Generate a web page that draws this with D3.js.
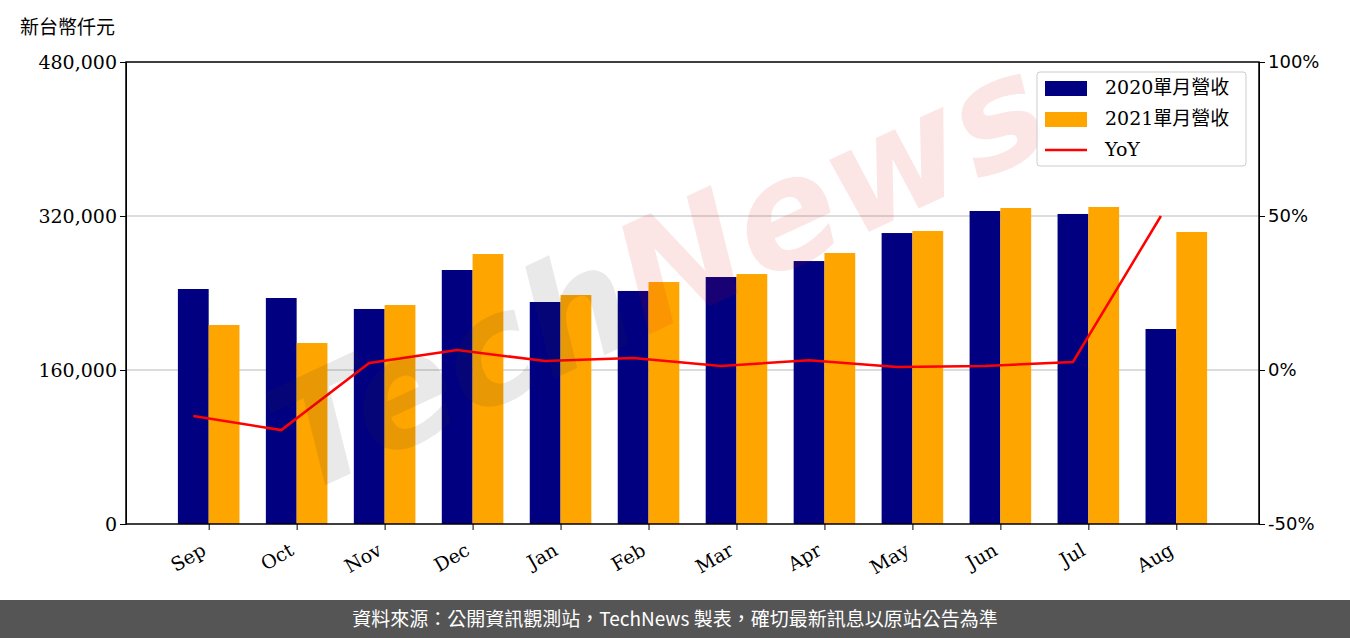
<!DOCTYPE html>
<html lang="zh-Hant">
<head>
<meta charset="UTF-8">
<title>單月營收</title>
<style>
  body { margin: 0; background: #fff; }
  .ax text { font-family: "DejaVu Serif", serif; font-size: 19px; fill: #000; }
  .axr text { font-family: "DejaVu Sans", sans-serif; font-size: 18px; fill: #000; }
  .ax path, .ax line, .axr path, .axr line { stroke: #000; }
</style>
<script src="https://d3js.org/d3.v7.min.js"></script>
</head>
<body>
<script>
const months = ["Sep","Oct","Nov","Dec","Jan","Feb","Mar","Apr","May","Jun","Jul","Aug"];
const rev2020 = [244150,234800,223400,263900,230650,242100,256600,273200,302300,325200,322100,202600];
const rev2021 = [206750,188050,227500,280500,237900,251400,259700,281550,304400,328300,329350,303400];
const yoy = [-14.9,-19.5,2.3,6.5,2.9,3.9,1.3,3.2,1.0,1.3,2.6,50];
const leftTicks = [0,160000,320000,480000];
const rightTicks = [-50,0,50,100];

const W = 1350, H = 638;
const L = 126, R = 1259, T = 62, B = 524;

const svg = d3.select("body").append("svg").attr("width", W).attr("height", H);

const x = d3.scaleLinear().domain([-0.94, 11.94]).range([L, R]);
const bw = x(0.35) - x(0);
const y = d3.scaleLinear().domain([0, 480000]).range([B, T]);
const y2 = d3.scaleLinear().domain([-50, 100]).range([B, T]);

// grid
svg.append("g").selectAll("line").data([160000, 320000]).enter().append("line")
  .attr("x1", L).attr("x2", R).attr("y1", d => y(d)).attr("y2", d => y(d))
  .attr("stroke", "#d0d0d0").attr("stroke-width", 1.5);

svg.append("g").selectAll("rect").data(rev2020).enter().append("rect")
  .attr("x", (d, i) => x(i) - bw).attr("width", bw)
  .attr("y", d => y(d)).attr("height", d => B - y(d)).attr("fill", "#000080");
svg.append("g").selectAll("rect").data(rev2021).enter().append("rect")
  .attr("x", (d, i) => x(i)).attr("width", bw)
  .attr("y", d => y(d)).attr("height", d => B - y(d)).attr("fill", "#FFA500");

const line = d3.line().x((d, i) => x(i) - bw / 2).y(d => y2(d));
svg.append("path").datum(yoy).attr("d", line)
  .attr("fill", "none").attr("stroke", "red").attr("stroke-width", 2.5);

// watermark overlay
const wm = svg.append("text")
  .attr("transform", "translate(680,320) rotate(-25)")
  .attr("text-anchor", "middle").attr("opacity", 0.1)
  .attr("font-family", "DejaVu Sans, sans-serif")
  .attr("font-size", 150).attr("font-weight", "bold").attr("font-style", "italic");
wm.append("tspan").attr("fill", "#333").text("Tech");
wm.append("tspan").attr("fill", "#e01010").text("News");

// frame
svg.append("rect").attr("x", L).attr("y", T).attr("width", R - L).attr("height", B - T)
  .attr("fill", "none").attr("stroke", "#000").attr("stroke-width", 1.5);

svg.append("g").attr("class", "ax").attr("transform", `translate(${L},0)`)
  .call(d3.axisLeft(y).tickValues(leftTicks).tickFormat(d3.format(",")).tickSizeOuter(0).tickSize(6));
svg.append("g").attr("class", "axr").attr("transform", `translate(${R},0)`)
  .call(d3.axisRight(y2).tickValues(rightTicks).tickFormat(d => d + "%").tickSizeOuter(0).tickSize(6));
const xa = svg.append("g").attr("class", "ax").attr("transform", `translate(0,${B})`)
  .call(d3.axisBottom(x).tickValues(d3.range(12)).tickFormat(i => months[i]).tickSizeOuter(0).tickSize(6));
xa.select(".domain").remove();
xa.selectAll("text").attr("text-anchor", "end").attr("dy", null).attr("y", 0)
  .attr("transform", "translate(-2,30) rotate(-30)");

svg.append("text").attr("x", 20).attr("y", 34)
  .attr("font-family", "Noto Sans CJK TC, sans-serif").attr("font-size", 19).text("新台幣仟元");

// legend
const lg = svg.append("g").attr("transform", "translate(1037,72)");
lg.append("rect").attr("width", 209).attr("height", 94).attr("rx", 3)
  .attr("fill", "#fff").attr("fill-opacity", 0.85).attr("stroke", "#ccc");
const items = [["2020單月營收", "#000080", "bar"], ["2021單月營收", "#FFA500", "bar"], ["YoY", "red", "line"]];
items.forEach((it, i) => {
  const cy = 16 + i * 31;
  if (it[2] === "bar") lg.append("rect").attr("x", 8).attr("y", cy - 7).attr("width", 42).attr("height", 15).attr("fill", it[1]);
  else lg.append("line").attr("x1", 8).attr("x2", 50).attr("y1", cy).attr("y2", cy).attr("stroke", it[1]).attr("stroke-width", 2.5);
  lg.append("text").attr("x", 68).attr("y", cy + 6)
    .attr("font-family", "DejaVu Serif, Noto Sans CJK TC, serif").attr("font-size", 19).text(it[0]);
});

// footer
svg.append("rect").attr("x", 0).attr("y", 600).attr("width", W).attr("height", 38).attr("fill", "#555");
svg.append("text").attr("x", W / 2).attr("y", 626).attr("text-anchor", "middle")
  .attr("font-family", "Noto Sans CJK TC, sans-serif").attr("font-size", 19).attr("fill", "#fff")
  .text("資料來源：公開資訊觀測站，TechNews 製表，確切最新訊息以原站公告為準");
</script>
</body>
</html>
